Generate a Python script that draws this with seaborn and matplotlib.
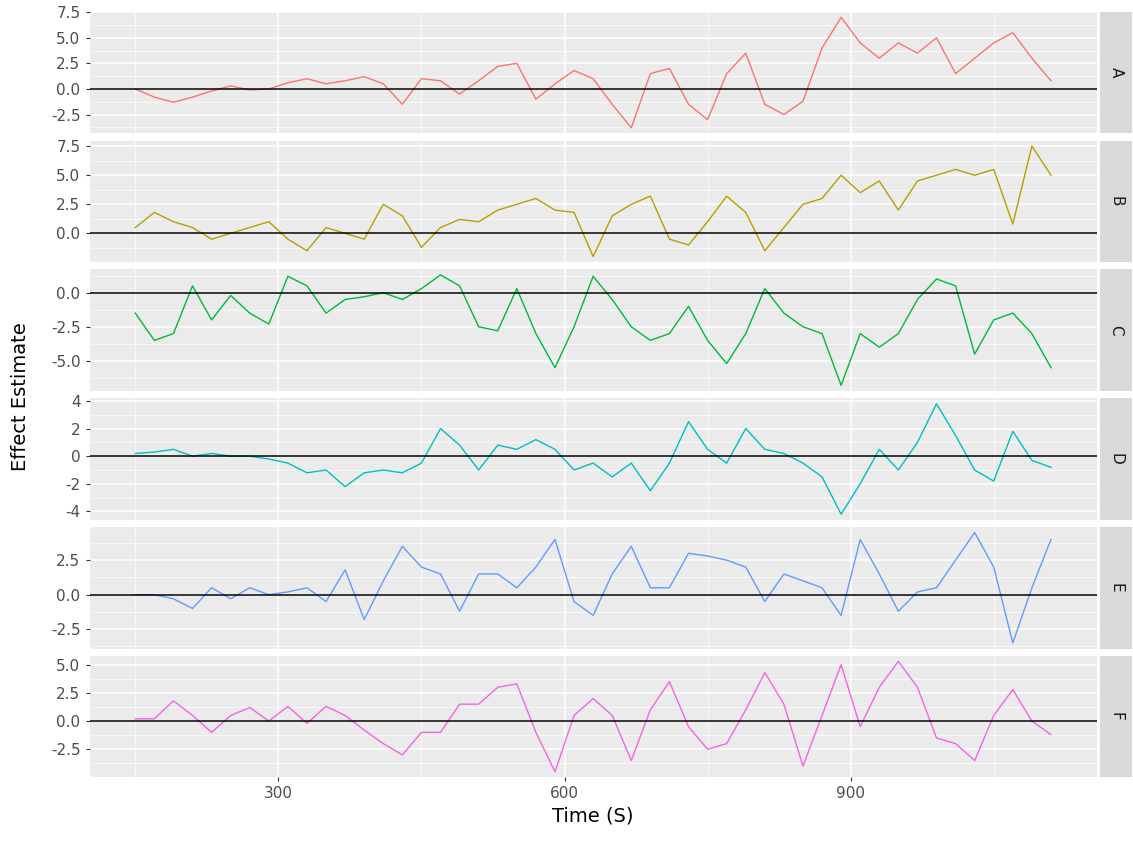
import matplotlib
matplotlib.use("Agg")
import matplotlib.pyplot as plt
import numpy as np
import pandas as pd
import seaborn as sns
from matplotlib.patches import Rectangle
from matplotlib.ticker import MultipleLocator, FormatStrFormatter

# ==========================================
# DATA (every 20 s)
# ==========================================

start_time = 150
step = 20

series_a = [0, -0.8, -1.3, -0.8, -0.2, 0.3, -0.1, 0, 0.6, 1.0, 0.5, 0.8, 1.2, 0.5, -1.5,
            1.0, 0.8, -0.5, 0.8, 2.2, 2.5, -1, 0.5, 1.8, 1.0, -1.5, -3.8, 1.5, 2.0, -1.5,
            -3, 1.5, 3.5, -1.5, -2.5, -1.2, 4, 7.0, 4.5, 3, 4.5, 3.5, 5, 1.5, 3, 4.5,
            5.5, 3, 0.8]
series_b = [0.5, 1.8, 1.0, 0.5, -0.5, 0, 0.5, 1.0, -0.5, -1.5, 0.5, 0, -0.5, 2.5, 1.5,
            -1.2, 0.5, 1.2, 1.0, 2.0, 2.5, 3, 2, 1.8, -2, 1.5, 2.5, 3.2, -0.5, -1,
            1, 3.2, 1.8, -1.5, 0.5, 2.5, 3, 5, 3.5, 4.5, 2, 4.5, 5, 5.5, 5, 5.5,
            0.8, 7.5, 5]
series_c = [-1.5, -3.5, -3.0, 0.5, -2, -0.2, -1.5, -2.3, 1.2, 0.5, -1.5, -0.5, -0.3, 0, -0.5,
            0.3, 1.3, 0.5, -2.5, -2.8, 0.3, -3, -5.5, -2.5, 1.2, -0.5, -2.5, -3.5, -3, -1,
            -3.5, -5.2, -3, 0.3, -1.5, -2.5, -3, -6.8, -3, -4, -3, -0.5, 1, 0.5, -4.5, -2,
            -1.5, -3, -5.5]
series_d = [0.2, 0.3, 0.5, 0, 0.2, 0, 0, -0.2, -0.5, -1.2, -1, -2.2, -1.2, -1, -1.2,
            -0.5, 2, 0.8, -1, 0.8, 0.5, 1.2, 0.5, -1, -0.5, -1.5, -0.5, -2.5, -0.5, 2.5,
            0.5, -0.5, 2, 0.5, 0.2, -0.5, -1.5, -4.2, -2, 0.5, -1, 1, 3.8, 1.5, -1, -1.8,
            1.8, -0.3, -0.8]
series_e = [0, 0, -0.3, -1, 0.5, -0.3, 0.5, 0, 0.2, 0.5, -0.5, 1.8, -1.8, 1, 3.5,
            2, 1.5, -1.2, 1.5, 1.5, 0.5, 2, 4, -0.5, -1.5, 1.5, 3.5, 0.5, 0.5, 3,
            2.8, 2.5, 2, -0.5, 1.5, 1, 0.5, -1.5, 4, 1.5, -1.2, 0.2, 0.5, 2.5, 4.5, 2,
            -3.5, 0.5, 4]
series_f = [0.2, 0.2, 1.8, 0.5, -1, 0.5, 1.2, 0, 1.3, -0.2, 1.3, 0.5, -0.8, -2, -3,
            -1, -1, 1.5, 1.5, 3, 3.3, -1, -4.5, 0.5, 2, 0.5, -3.5, 1, 3.5, -0.5,
            -2.5, -2, 1, 4.3, 1.5, -4, 0.5, 5, -0.5, 3, 5.3, 3, -1.5, -2, -3.5, 0.5,
            2.8, 0, -1.2]

facets = ["A", "B", "C", "D", "E", "F"]
all_series = [series_a, series_b, series_c, series_d, series_e, series_f]
colors = ["#F8766D", "#B79F00", "#00BA38", "#00BFC4", "#619CFF", "#F564E3"]

y_ticks = [
    [-2.5, 0, 2.5, 5, 7.5],
    [0, 2.5, 5, 7.5],
    [-5, -2.5, 0],
    [-4, -2, 0, 2, 4],
    [-2.5, 0, 2.5],
    [-2.5, 0, 2.5, 5],
]

frames = []
for name, values in zip(facets, all_series):
    frames.append(pd.DataFrame({
        "time": start_time + step * np.arange(len(values)),
        "value": values,
        "facet": name,
    }))
df = pd.concat(frames)

# ==========================================
# PLOT
# ==========================================

fig, axes = plt.subplots(6, 1, figsize=(11.33, 8.44), dpi=100, sharex=True)
fig.subplots_adjust(left=0.079, right=0.968, top=0.986, bottom=0.079, hspace=0.06)

for i, (ax, name, color, ticks) in enumerate(zip(axes, facets, colors, y_ticks)):
    sub = df[df["facet"] == name]
    ax.set_facecolor("#EBEBEB")
    sns.lineplot(data=sub, x="time", y="value", color=color, linewidth=1, ax=ax)
    ax.axhline(0, color="black", linewidth=1.1)

    ax.set_yticks(ticks)
    spacing = ticks[1] - ticks[0]
    ax.yaxis.set_minor_locator(MultipleLocator(spacing / 2))
    if name == "D":
        ax.yaxis.set_major_formatter(FormatStrFormatter("%d"))
    else:
        ax.yaxis.set_major_formatter(FormatStrFormatter("%.1f"))
    ymin, ymax = min(sub["value"]), max(sub["value"])
    pad = (ymax - ymin) * 0.05
    ax.set_ylim(ymin - pad, ymax + pad)

    ax.set_xlim(102, 1158)
    ax.set_xticks([300, 600, 900])
    ax.xaxis.set_minor_locator(MultipleLocator(150))

    ax.grid(which="major", color="white", linewidth=1.1)
    ax.grid(which="minor", color="white", linewidth=0.5)
    ax.set_axisbelow(True)
    for spine in ax.spines.values():
        spine.set_visible(False)
    ax.tick_params(which="major", length=3, color="#333333", labelsize=11, labelcolor="#4D4D4D")
    ax.tick_params(which="minor", length=0)
    if i < len(facets) - 1:
        ax.tick_params(axis="x", which="both", bottom=False)
    ax.set_xlabel("")
    ax.set_ylabel("")

    strip = Rectangle((1.003, 0), 0.032, 1, transform=ax.transAxes,
                      facecolor="#D9D9D9", edgecolor="none", clip_on=False)
    ax.add_patch(strip)
    ax.text(1.019, 0.5, name, transform=ax.transAxes, rotation=-90,
            ha="center", va="center", fontsize=11, color="#1A1A1A")

axes[-1].set_xlabel("Time (S)", fontsize=14)
fig.text(0.018, 0.53, "Effect Estimate", rotation=90, ha="center", va="center", fontsize=14)

plt.savefig("out.png")
plt.close()
